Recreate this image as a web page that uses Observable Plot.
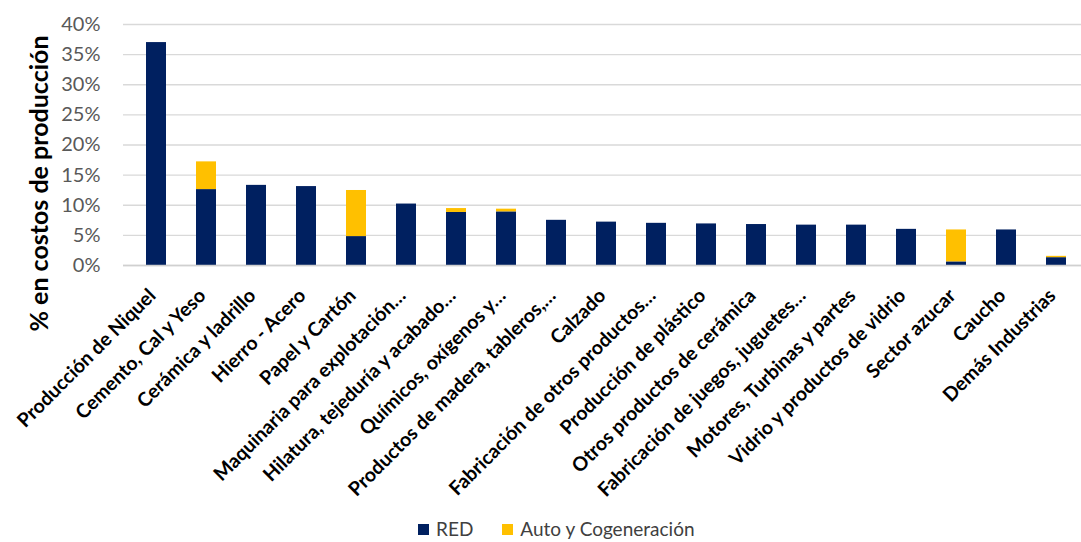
<!DOCTYPE html>
<html><head><meta charset="utf-8">
<script src="https://cdn.jsdelivr.net/npm/d3@7"></script>
<script src="https://cdn.jsdelivr.net/npm/@observablehq/plot@0.6"></script>
<style>
body{margin:0;background:#fff;font-family:Lato,sans-serif}
#wrap{position:relative;width:1081px;height:542px}
#legend{position:absolute;top:520px;left:418px;height:18px;line-height:18px;font-size:19px;color:#404040;display:flex;align-items:center;white-space:nowrap}
#legend .sw{display:inline-block;width:11px;height:11px;margin-right:7px}
#legend .it{display:flex;align-items:center;margin-right:29px;line-height:18px;height:18px}
</style></head><body><div id="wrap"><div id="chart"></div><div id="legend"></div></div>
<script>
const categories = [
  "Producción de Niquel","Cemento, Cal y Yeso","Cerámica y ladrillo","Hierro - Acero","Papel y Cartón",
  "Maquinaria para explotación…","Hilatura, tejeduría y acabado…","Químicos, oxígenos y…",
  "Productos de madera, tableros,…","Calzado","Fabricación de otros productos…","Producción de plástico",
  "Otros productos de cerámica","Fabricación de juegos, juguetes…","Motores, Turbinas y partes",
  "Vidrio y productos de vidrio","Sector azucar","Caucho","Demás Industrias"
];
const red  = [37.0,12.6,13.3,13.1,4.8,10.2,8.8,8.9,7.5,7.2,7.0,6.9,6.8,6.7,6.7,6.0,0.6,5.9,1.3];
const auto = [0,4.6,0,0,7.65,0,0.65,0.45,0,0,0,0,0,0,0,0,5.3,0,0.22];
const seriesNames = ["RED","Auto y Cogeneración"];
const seriesColors = ["#002060","#FFC000"];
const yTicks = [0,5,10,15,20,25,30,35,40];
const yTitle = "% en costos de producción";

const data = categories.flatMap((c,i)=>[
  {cat:c, serie:seriesNames[0], v:red[i]},
  {cat:c, serie:seriesNames[1], v:auto[i]}
]);

const chart = Plot.plot({
  width:1081, height:512,
  marginLeft:123, marginRight:-8, marginTop:24, marginBottom:247,
  style:{fontFamily:"Lato, sans-serif", background:"#fff", overflow:"visible"},
  x:{domain:categories, paddingInner:0.6, paddingOuter:0.3, label:null},
  y:{domain:[0,40], label:null},
  color:{domain:seriesNames, range:seriesColors},
  marks:[
    Plot.gridY(yTicks, {stroke:"#D9D9D9", strokeOpacity:1, strokeWidth:1.3}),
    Plot.barY(data, {x:"cat", y:"v", fill:"serie", order:seriesNames}),
    Plot.ruleY([0], {stroke:"#D0D0D0", strokeWidth:1.6}),
    Plot.axisY(yTicks, {tickSize:0, tickPadding:23, tickFormat:d=>d+"%", fontSize:20, fill:"#595959", label:null}),
    Plot.axisX({tickSize:0, tickPadding:27, dx:-4, tickRotate:-45, fontSize:19.5, fontWeight:"bold", fill:"#000", label:null}),
    Plot.text([yTitle], {frameAnchor:"left", rotate:-90, dx:-84, dy:38.5, textAnchor:"middle", lineAnchor:"middle", fontSize:25, fontWeight:"bold", fill:"#000"})
  ]
});
document.getElementById("chart").appendChild(chart);

const lg = document.getElementById("legend");
seriesNames.forEach((n,i)=>{
  const it = document.createElement("span"); it.className="it";
  const sw = document.createElement("span"); sw.className="sw"; sw.style.background=seriesColors[i];
  it.appendChild(sw); it.appendChild(document.createTextNode(n)); lg.appendChild(it);
});
</script></body></html>
